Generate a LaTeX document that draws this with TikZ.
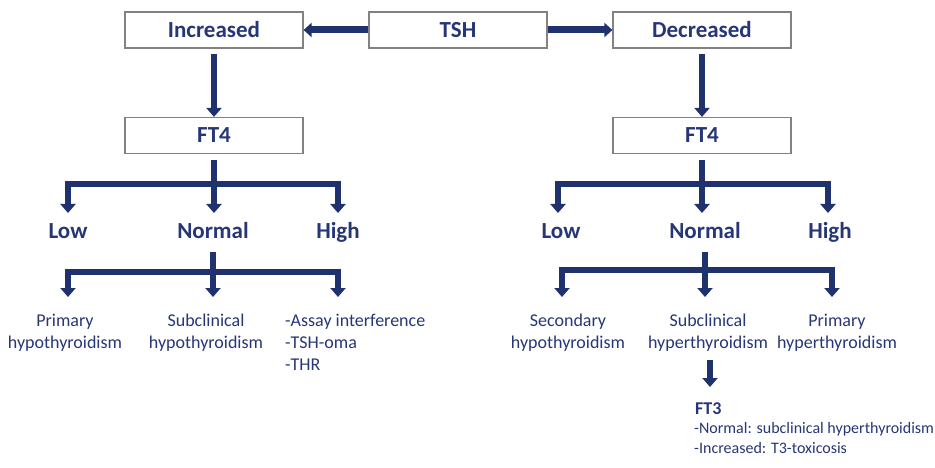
\documentclass[tikz,border=0pt]{standalone}
\usepackage{fontspec}
\setmainfont{Carlito}
\usetikzlibrary{arrows.meta}
\definecolor{navy}{RGB}{31,50,110}
\definecolor{txt}{RGB}{38,54,118}
\definecolor{boxgray}{RGB}{130,130,130}
\begin{document}
\begin{tikzpicture}[x=1pt,y=-1pt,
  box/.style={draw=boxgray, line width=1.2pt, fill=white, minimum width=178pt, minimum height=36pt, inner sep=0pt, font=\fontsize{23}{27}\selectfont\bfseries, text=txt},
  lbl/.style={inner sep=0pt, anchor=base, font=\fontsize{23}{27}\selectfont\bfseries, text=txt},
  res/.style={inner sep=0pt, anchor=north, align=center, font=\fontsize{18}{22}\selectfont, text=txt},
  arr/.style={draw=navy, line width=6.5pt, -{Triangle[width=15pt,length=9pt]}, line join=miter},
  harr/.style={draw=navy, line width=7pt, -{Triangle[width=14pt,length=8pt]}},
  bar/.style={draw=navy, line width=6.5pt, line join=miter}
]
\useasboundingbox (0,0) rectangle (935,468);
% top row
\node[box] (inc) at (214,30) {Increased};
\node[box] (tsh) at (458,30) {TSH};
\node[box] (dec) at (702,30) {Decreased};
\node[box] (ft4l) at (214,135.5) {FT4};
\node[box] (ft4r) at (702,135.5) {FT4};
\draw[harr] (tsh) -- (inc);
\draw[harr] (tsh) -- (dec);
\draw[arr, shorten <=5pt] (inc) -- (ft4l);
\draw[arr, shorten <=5pt] (dec) -- (ft4r);

% ---------- left branch ----------
\coordinate (aL1) at (214,184);
\coordinate (tLowL) at (68,213);
\coordinate (tNormL) at (214,213);
\coordinate (tHighL) at (338,213);
\draw[bar, shorten <=6pt] (ft4l) -- (aL1);
\draw[arr] (aL1) -| (tLowL);
\draw[arr] (aL1) -- (tNormL);
\draw[arr] (aL1) -| (tHighL);
\node[lbl] (lowL) at (68,238) {Low};
\node[lbl] (normL) at (213,238) {Normal};
\node[lbl] (highL) at (338,238) {High};

\coordinate (aL2) at (213,272);
\coordinate (tPriL) at (68,297);
\coordinate (tSubL) at (213,297);
\coordinate (tOthL) at (338,297);
\draw[bar, shorten <=14pt] (normL.base) -- (aL2);
\draw[arr] (aL2) -| (tPriL);
\draw[arr] (aL2) -- (tSubL);
\draw[arr] (aL2) -| (tOthL);
\node[res] (priL) at (65,313.5) {Primary\\hypothyroidism};
\node[res] (subL) at (206,313.5) {Subclinical\\hypothyroidism};
\node[res, anchor=north west, align=left] (othL) at (285,313.5) {-Assay interference\\-TSH-oma\\-THR};

% ---------- right branch ----------
\coordinate (aR1) at (702,184);
\coordinate (tLowR) at (558,213);
\coordinate (tNormR) at (702,213);
\coordinate (tHighR) at (828,213);
\draw[bar, shorten <=6pt] (ft4r) -- (aR1);
\draw[arr] (aR1) -| (tLowR);
\draw[arr] (aR1) -- (tNormR);
\draw[arr] (aR1) -| (tHighR);
\node[lbl] (lowR) at (561,238) {Low};
\node[lbl] (normR) at (705,238) {Normal};
\node[lbl] (highR) at (830,238) {High};

\coordinate (aR2) at (705,270);
\coordinate (tSecR) at (562,297);
\coordinate (tSubR) at (705,297);
\coordinate (tPriR) at (832,297);
\draw[bar, shorten <=14pt] (normR.base) -- (aR2);
\draw[arr] (aR2) -| (tSecR);
\draw[arr] (aR2) -- (tSubR);
\draw[arr] (aR2) -| (tPriR);
\node[res] (secR) at (568,313.5) {Secondary\\hypothyroidism};
\node[res] (subR) at (708,313.5) {Subclinical\\hyperthyroidism};
\node[res] (priR) at (837,313.5) {Primary\\hyperthyroidism};

% ---------- FT3 ----------
\node[inner sep=0pt, anchor=base west, font=\fontsize{18}{22}\selectfont\bfseries, text=txt] (ft3) at (695,414) {FT3};
\node[inner sep=0pt, anchor=north west, align=left, font=\fontsize{16}{20}\selectfont, text=txt] (ft3txt) at (694,422) {-Normal: subclinical hyperthyroidism\\-Increased: T3-toxicosis};
\coordinate (f3top) at (710,360);
\coordinate (f3tip) at (710,387);
\draw[arr] (f3top) -- (f3tip);
\end{tikzpicture}
\end{document}
